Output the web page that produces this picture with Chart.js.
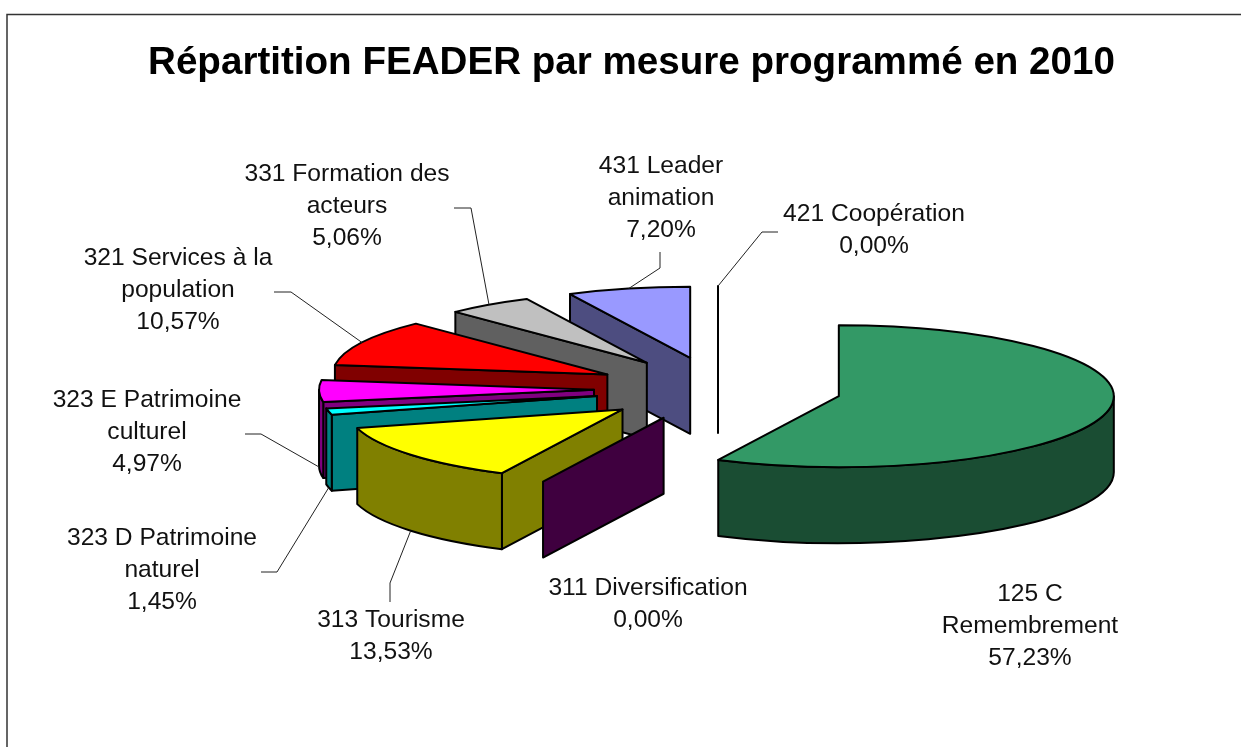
<!DOCTYPE html>
<html>
<head>
<meta charset="utf-8">
<script src="https://cdn.jsdelivr.net/npm/chart.js@4"></script>
<style>
html, body { margin: 0; padding: 0; background: #fff; overflow: hidden; }
#wrap { position: relative; width: 1241px; height: 747px; }
</style>
</head>
<body>
<div id="wrap"><canvas id="chart" width="1241" height="747"></canvas></div>
<script>
const chartTitle = 'Répartition FEADER par mesure programmé en 2010'

// slices, clockwise from 12 o'clock
const categories = [
    '125 C\nRemembrement',
    '311 Diversification',
    '313 Tourisme',
    '323 D Patrimoine\nnaturel',
    '323 E Patrimoine\nculturel',
    '321 Services à la\npopulation',
    '331 Formation des\nacteurs',
    '431 Leader\nanimation',
    '421 Coopération'
]
const shares = [57.23, 0, 13.53, 1.45, 4.97, 10.57, 5.06, 7.20, 0]

const topColors = ['#339966', '#660066', '#ffff00', '#00ffff', '#ff00ff', '#ff0000', '#c0c0c0', '#9999ff', '#ffffff']
const sideColors = ['#1a4d33', '#3f003f', '#808000', '#008080', '#800080', '#800000', '#606060', '#4d4d80', '#000000']

// label centre x, centre y of first line
const labelX = [1030, 648, 391, 162, 147, 178, 347, 661, 874]
const labelY = [594, 588, 620, 538, 400, 258, 174, 166, 214]
// leader line start and elbow, null when the label has no leader
const leaders = [
    null,
    null,
    [[390, 602], [390, 583]],
    [[261, 572], [277, 572]],
    [[245, 434], [261, 434]],
    [[274, 292], [291, 292]],
    [[454, 208], [471, 208]],
    [[660, 252], [660, 268]],
    [[778, 232], [762, 232]]
]

const CENTER_X = 718
const CENTER_Y = 389
const RADIUS = 275
const EXPLODE = 124
const TILT = 0.258
const DEPTH = 76

// where a slice sits on the tilted plane once pulled out
function sliceApex(arc) {
    const mid = (arc.startAngle + arc.endAngle) / 2
    return {
        x: CENTER_X + Math.cos(mid) * arc.options.offset,
        y: CENTER_Y + Math.sin(mid) * arc.options.offset * TILT
    }
}

function rimPoint(apex, r, angle) {
    return { x: apex.x + Math.cos(angle) * r, y: apex.y + Math.sin(angle) * r * TILT }
}

function drawSlice(c, arc, i) {
    const apex = sliceApex(arc)
    const r = arc.outerRadius
    const a0 = arc.startAngle
    const a1 = arc.endAngle
    const p0 = rimPoint(apex, r, a0)
    const p1 = rimPoint(apex, r, a1)

    c.lineWidth = 2
    c.lineJoin = 'round'
    c.strokeStyle = '#000'
    c.fillStyle = sideColors[i]

    // flat cut faces
    const faces = []
    if (a0 === a1 || Math.sin(a0 + Math.PI / 2) < -1e-6) faces.push(p0)
    if (a0 !== a1 && Math.sin(a1 + Math.PI / 2) > 1e-6) faces.push(p1)
    faces.forEach(p => {
        c.beginPath()
        c.moveTo(apex.x, apex.y)
        c.lineTo(p.x, p.y)
        c.lineTo(p.x, p.y + DEPTH)
        c.lineTo(apex.x, apex.y + DEPTH)
        c.closePath()
        c.fill()
        c.stroke()
    })

    // outer wall, only the part facing the viewer
    const from = Math.max(a0, 0)
    const to = Math.min(a1, Math.PI)
    if (to > from) {
        c.beginPath()
        c.ellipse(apex.x, apex.y, r, r * TILT, 0, from, to)
        c.ellipse(apex.x, apex.y + DEPTH, r, r * TILT, 0, to, from, true)
        c.closePath()
        c.fill()
        c.stroke()
    }

    // top
    if (a1 > a0) {
        c.fillStyle = topColors[i]
        c.beginPath()
        c.moveTo(apex.x, apex.y)
        c.ellipse(apex.x, apex.y, r, r * TILT, 0, a0, a1)
        c.closePath()
        c.fill()
        c.stroke()
    }
}

function drawLeader(c, arc, leader) {
    const mid = (arc.startAngle + arc.endAngle) / 2
    const end = rimPoint(sliceApex(arc), arc.outerRadius, mid)
    // front slices get the line at the foot of the wall
    if (Math.sin(mid) > -0.05) end.y += DEPTH
    c.lineWidth = 1
    c.strokeStyle = '#222'
    c.beginPath()
    c.moveTo(leader[0][0], leader[0][1])
    c.lineTo(leader[1][0], leader[1][1])
    c.lineTo(end.x, end.y)
    c.stroke()
}

const pie3d = {
    id: 'pie3d',
    beforeDraw(chart) {
        const c = chart.ctx
        c.save()
        c.fillStyle = '#fff'
        c.fillRect(0, 0, chart.width, chart.height)
        // chart frame runs off the right and bottom of the picture
        c.strokeStyle = '#333'
        c.lineWidth = 1.5
        c.strokeRect(7, 14.5, chart.width + 20, chart.height + 20)
        c.restore()
    },
    beforeDatasetsDraw(chart) {
        const c = chart.ctx
        const arcs = chart.getDatasetMeta(0).data
        // back to front
        const order = arcs.map((a, i) => i).sort((i, j) => {
            const mi = (arcs[i].startAngle + arcs[i].endAngle) / 2
            const mj = (arcs[j].startAngle + arcs[j].endAngle) / 2
            return Math.sin(mi) - Math.sin(mj)
        })
        c.save()
        order.forEach(i => drawSlice(c, arcs[i], i))

        leaders.forEach((leader, i) => {
            if (leader) drawLeader(c, arcs[i], leader)
        })

        c.fillStyle = '#111'
        c.font = '24.6px "Liberation Sans"'
        c.textAlign = 'center'
        c.textBaseline = 'middle'
        categories.forEach((name, i) => {
            const lines = name.split('\n')
            lines.push(shares[i].toFixed(2).replace('.', ',') + '%')
            lines.forEach((line, n) => c.fillText(line, labelX[i], labelY[i] + n * 32))
        })
        c.restore()
        return false
    }
}

new Chart(document.getElementById('chart').getContext('2d'), {
    type: 'pie',
    data: {
        labels: categories,
        datasets: [{
            data: shares,
            backgroundColor: topColors,
            offset: EXPLODE
        }]
    },
    options: {
        responsive: false,
        animation: false,
        radius: RADIUS,
        layout: { padding: { left: 22 } },
        plugins: {
            legend: { display: false },
            tooltip: { enabled: false },
            title: {
                display: true,
                text: chartTitle,
                color: '#000',
                font: { family: '"Liberation Sans"', size: 38.6, weight: 'bold', lineHeight: 1.2 },
                padding: { top: 40, bottom: 10 }
            }
        }
    },
    plugins: [pie3d]
})
</script>
</body>
</html>
